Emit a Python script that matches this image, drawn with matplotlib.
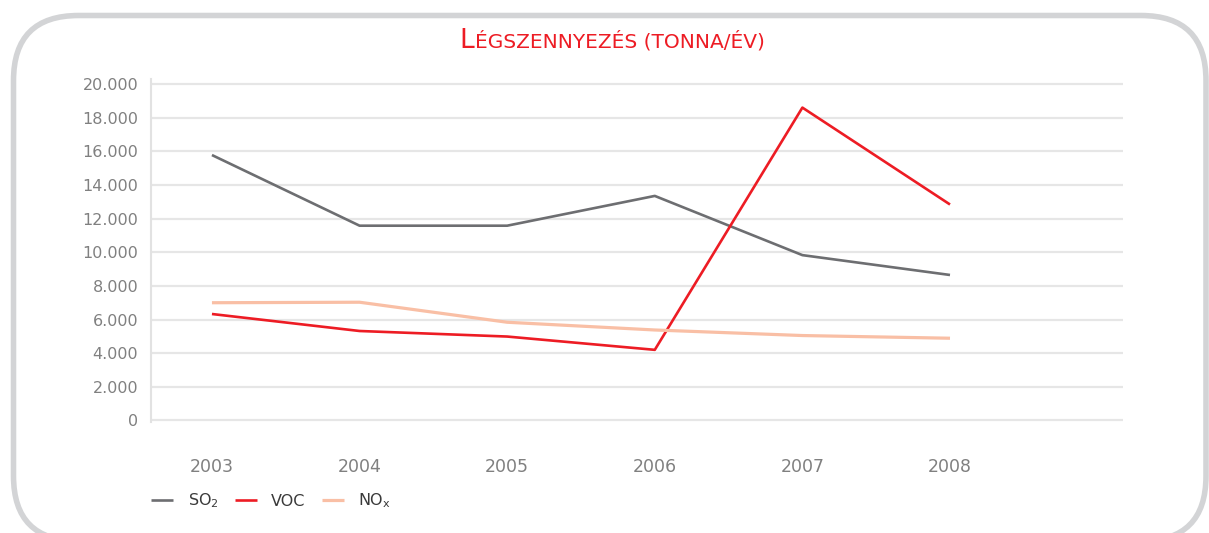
import matplotlib.pyplot as plt
import matplotlib.patches as mpatches
import matplotlib.transforms as mtransforms
from matplotlib.ticker import FuncFormatter

# Data
years = ["2003", "2004", "2005", "2006", "2007", "2008"]
so2 = [15780, 11580, 11580, 13350, 9830, 8650]
voc = [6330, 5320, 4990, 4200, 18600, 12840]
nox = [7000, 7030, 5840, 5380, 5050, 4890]

grey = "#6d6e71"
red = "#ed1c24"
salmon = "#f9bfa5"
tick_grey = "#808080"

fig = plt.figure(figsize=(12.09, 5.33), dpi=100)
W, H = 1209, 533

# rounded frame around the whole picture (pixel coords)
frame = mpatches.FancyBboxPatch((13.5, -8), 1206 - 13.5, 517.5 + 8,
                                boxstyle="round,pad=0,rounding_size=65",
                                transform=mtransforms.IdentityTransform(),
                                fill=False, edgecolor="#d3d4d6", linewidth=4.0)
fig.add_artist(frame)

ax = fig.add_axes([150.7 / W, 1 - 421.5 / H, (1122.7 - 150.7) / W, (421.5 - 79) / H])

x = list(range(len(years)))
ax.plot(x, so2, color=grey, lw=1.9, label=r"SO$_\mathregular{2}$", solid_capstyle="butt")
ax.plot(x, voc, color=red, lw=1.9, label="VOC", solid_capstyle="butt")
ax.plot(x, nox, color=salmon, lw=2.3, label=r"NO$_\mathregular{x}$", solid_capstyle="butt")

ax.set_xlim(-0.415, 6.17)
ax.set_ylim(-60, 20300)
ax.set_yticks(range(0, 20001, 2000))
ax.yaxis.set_major_formatter(FuncFormatter(lambda v, p: f"{v:,.0f}".replace(",", ".")))
ax.set_xticks(x)
ax.set_xticklabels(years)

ax.grid(axis="y", color="#e6e6e6", lw=1.6)
ax.set_axisbelow(True)
for s in ["top", "right", "bottom"]:
    ax.spines[s].set_visible(False)
ax.spines["left"].set_color("#e2e2e2")
ax.spines["left"].set_linewidth(1.5)
ax.tick_params(axis="y", length=0, pad=9, labelsize=11.5, labelcolor=tick_grey)
ax.tick_params(axis="x", length=0, pad=26, labelsize=12.5, labelcolor=tick_grey)

# legend at bottom left
fig.legend(loc="center left", bbox_to_anchor=(151 / W, 1 - 501 / H),
           ncol=3, frameon=False, fontsize=11.5, handlelength=1.4,
           handletextpad=0.9, columnspacing=1.0, borderpad=0, borderaxespad=0,
           labelcolor="#3a3a3a")

# title in small caps: big "L" + smaller uppercase rest
t1 = fig.text(0, 1 - 48 / H, "L", color=red, fontsize=19, va="baseline")
t2 = fig.text(0, 1 - 48 / H, "ÉGSZENNYEZÉS (TONNA/ÉV)", color=red,
              fontsize=14.5, va="baseline")
fig.canvas.draw()
r = fig.canvas.get_renderer()
w1 = t1.get_window_extent(r).width
w2 = t2.get_window_extent(r).width
x0 = 612 - (w1 + w2) / 2
t1.set_x(x0 / W)
t2.set_x((x0 + w1 + 1) / W)

fig.savefig("out.png", dpi=100)
